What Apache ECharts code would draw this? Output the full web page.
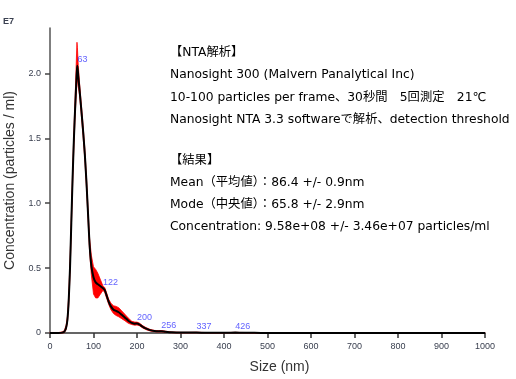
<!DOCTYPE html>
<html>
<head>
<meta charset="utf-8">
<script src="https://cdn.jsdelivr.net/npm/echarts@6/dist/echarts.min.js"></script>
<style>html,body{margin:0;padding:0;background:#fff}#c{width:516px;height:379px}</style>
</head>
<body>
<div id="c"></div>
<script>
// Size (nm)
var sizes = [0,10,20,28,33,37,40,43,46,49,52,55,58,61,62,63,65,68,72,76,80,84,88,91,95,100,105,110,116,122,126,130,135,140,146,152,158,165,172,180,188,195,200,206,212,220,230,240,250,256,265,280,300,320,337,355,380,410,426,445,470,500,600,700,800,900,1000];
// Mean concentration (E7 particles / ml)
var meanConc = [0,0,0,0.003,0.01,0.04,0.1,0.25,0.5,0.85,1.2,1.5,1.75,1.97,2.03,2.06,1.98,1.87,1.72,1.56,1.38,1.15,0.88,0.68,0.52,0.43,0.39,0.375,0.36,0.345,0.33,0.29,0.24,0.205,0.18,0.17,0.16,0.14,0.12,0.095,0.078,0.072,0.073,0.065,0.05,0.035,0.022,0.015,0.013,0.014,0.01,0.005,0.003,0.003,0.004,0.002,0.001,0.002,0.003,0.002,0.001,0,0,0,0,0,0];
// Error band lower / upper (E7)
var bandLow = [0,0,0,0,0.003,0.025,0.08,0.21,0.45,0.8,1.15,1.45,1.69,1.88,1.93,1.96,1.9,1.83,1.68,1.52,1.34,1.11,0.84,0.63,0.45,0.3,0.27,0.27,0.3,0.33,0.31,0.27,0.22,0.18,0.15,0.135,0.125,0.11,0.095,0.075,0.065,0.06,0.062,0.055,0.041,0.027,0.016,0.01,0.008,0.009,0.006,0.002,0.001,0.001,0.002,0.001,0,0.001,0.001,0.001,0,0,0,0,0,0,0];
var bandHigh = [0.004,0.004,0.004,0.008,0.018,0.06,0.125,0.29,0.55,0.9,1.25,1.56,1.83,2.15,2.24,2.2,2.06,1.92,1.76,1.6,1.42,1.19,0.92,0.73,0.6,0.51,0.49,0.46,0.41,0.36,0.35,0.31,0.26,0.23,0.21,0.205,0.195,0.17,0.145,0.115,0.09,0.084,0.084,0.075,0.059,0.043,0.028,0.02,0.018,0.019,0.014,0.008,0.005,0.005,0.006,0.004,0.003,0.004,0.005,0.004,0.003,0.003,0.003,0.003,0.003,0.003,0.003];
// Peak annotations
var peakSizes = [63,122,200,256,337,426];
var peakValues = [2.06,0.345,0.073,0.014,0.004,0.003];
var yTicks = [0,0.5,1,1.5,2];
var infoHeader1 = '【NTA解析】';
var infoLines1 = [
  'Nanosight 300 (Malvern Panalytical Inc)',
  '10-100 particles per frame、30秒間　5回測定　21℃',
  'Nanosight NTA 3.3 softwareで解析、detection threshold'
];
var infoHeader2 = '【結果】';
var infoLines2 = [
  'Mean（平均値）：86.4 +/- 0.9nm',
  'Mode（中央値）：65.8 +/- 2.9nm',
  'Concentration: 9.58e+08 +/- 3.46e+07 particles/ml'
];

var meanData = sizes.map(function(s,i){return [s, meanConc[i]];});
var peakData = peakSizes.map(function(s,i){return [s, peakValues[i]];});

var infoFont = '12.3px "DejaVu Sans", "Noto Sans CJK JP", sans-serif';
function textEl(t, x, y){
  return {type:'text', x:x, y:y, z:10, style:{text:t, fill:'#000', font:infoFont, textVerticalAlign:'middle'}};
}
var infoGraphics = [];
var block1 = [infoHeader1].concat(infoLines1);
var block2 = [infoHeader2].concat(infoLines2);
block1.forEach(function(t,i){ infoGraphics.push(textEl(t, 170, 53 + i*22.3)); });
block2.forEach(function(t,i){ infoGraphics.push(textEl(t, 170, 161 + i*22)); });
infoGraphics.push({type:'text', x:3, y:22, style:{text:'E7', fill:'#3a4050', font:'bold 9px "Liberation Sans", Arial, sans-serif', textVerticalAlign:'middle'}});

function renderBand(params, api){
  var pts = [];
  for (var i=0;i<sizes.length;i++) pts.push(api.coord([sizes[i], bandHigh[i]]));
  for (var j=sizes.length-1;j>=0;j--) pts.push(api.coord([sizes[j], bandLow[j]]));
  return {type:'polygon', shape:{points:pts, smooth:0}, style:{fill:'#ff0000', stroke:'#ff0000', lineWidth:0.8}};
}

var chart = echarts.init(document.getElementById('c'), null, {renderer:'canvas'});
chart.setOption({
  animation:false,
  backgroundColor:'#fff',
  grid:{left:50, right:31, top:28, bottom:46, containLabel:false, outerBoundsMode:'none'},
  xAxis:{type:'value', min:0, max:1000, interval:100,
    name:'Size (nm)', nameLocation:'middle', nameGap:27,
    nameTextStyle:{fontSize:14, color:'#333', fontFamily:'"Liberation Sans", Arial, sans-serif', padding:[0,0,0,24]},
    axisLine:{show:true, lineStyle:{color:'#333', width:1.5}},
    axisTick:{show:true, length:5, lineStyle:{color:'#333', width:1.5}},
    axisLabel:{fontSize:9, color:'#3a4050', margin:9, fontFamily:'"Liberation Sans", Arial, sans-serif',
      formatter:function(v){return String(v);}},
    splitLine:{show:false}},
  yAxis:{type:'value', min:0, max:2.35,
    name:'Concentration (particles / ml)', nameLocation:'middle', nameRotate:90, nameGap:30,
    nameTextStyle:{fontSize:14, color:'#333', fontFamily:'"Liberation Sans", Arial, sans-serif'},
    axisLine:{show:true, lineStyle:{color:'#555', width:1.5}},
    axisTick:{show:true, length:5, customValues:yTicks, lineStyle:{color:'#444', width:1.5}},
    axisLabel:{fontSize:9, color:'#3a4050', margin:9, customValues:yTicks,
      fontFamily:'"Liberation Sans", Arial, sans-serif',
      formatter:function(v){return v===0?'0':v.toFixed(1);}},
    splitLine:{show:false}},
  series:[
    {type:'custom', data:[[0,0]], renderItem:renderBand, silent:true, z:2},
    {type:'line', data:meanData, symbol:'none', smooth:0.2, lineStyle:{color:'#000', width:2}, z:5},
    {type:'scatter', data:peakData, symbolSize:0, z:6,
      label:{show:true, position:'right', distance:0, offset:[0,-6], color:'#3a3aff', fontSize:9,
        fontFamily:'"Liberation Sans", Arial, sans-serif',
        formatter:function(p){return String(p.value[0]);}}}
  ],
  graphic:infoGraphics
});
</script>
</body>
</html>
